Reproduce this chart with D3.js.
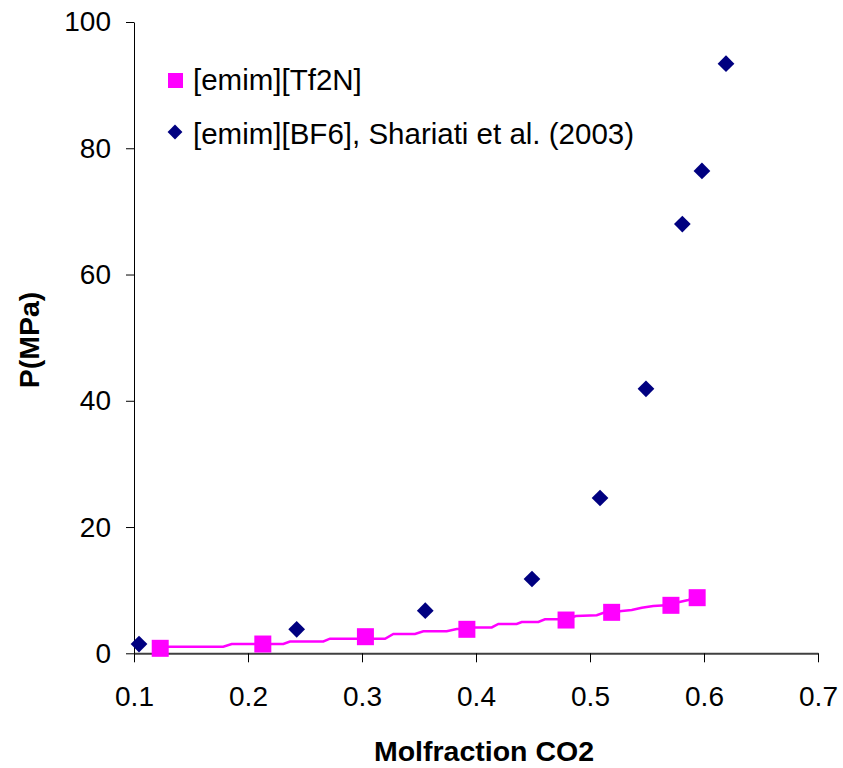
<!DOCTYPE html>
<html>
<head>
<meta charset="utf-8">
<script src="https://cdn.jsdelivr.net/npm/d3@7"></script>
<style>
  html, body { margin: 0; padding: 0; background: #fff; }
  svg { display: block; }
  text { font-family: Arial, "Liberation Sans", sans-serif; }
</style>
</head>
<body>
<svg id="chart" width="843" height="768"></svg>
<script>
// ---- data ----
const xTicks = [0.1, 0.2, 0.3, 0.4, 0.5, 0.6, 0.7];
const yTicks = [0, 20, 40, 60, 80, 100];

// [emim][Tf2N] measured points
const tf2nX = [0.123, 0.213, 0.303, 0.392, 0.479, 0.519, 0.571, 0.594];
const tf2nP = [0.79, 1.47, 2.63, 3.80, 5.27, 6.49, 7.60, 8.81];

// [emim][Tf2N] model curve
const curveX = [0.1234, 0.1783, 0.1857, 0.2310, 0.2368, 0.2661, 0.2719, 0.3202, 0.3275, 0.3465,
                0.3538, 0.3743, 0.3831, 0.3918, 0.3991, 0.4138, 0.4196, 0.4357, 0.4401, 0.4547,
                0.4605, 0.4789, 0.4877, 0.5059, 0.5132, 0.5193, 0.5278, 0.5366, 0.5454, 0.5555,
                0.5702, 0.5775, 0.5862, 0.5936];
const curveP = [1.05, 1.05, 1.47, 1.47, 1.87, 1.87, 2.31, 2.31, 3.06, 3.06,
                3.49, 3.49, 3.85, 3.85, 4.09, 4.09, 4.64, 4.64, 4.96, 4.96,
                5.39, 5.39, 5.91, 6.02, 6.49, 6.49, 6.70, 6.86, 7.22, 7.49,
                7.65, 8.08, 8.44, 8.81];

// [emim][BF6], Shariati et al. (2003)
const bf6X = [0.1044, 0.2427, 0.3555, 0.4491, 0.5088, 0.5491, 0.5810, 0.5982, 0.6193];
const bf6P = [1.47, 3.80, 6.75, 11.77, 24.6, 41.9, 68.0, 76.4, 93.4];

const legendLabels = ["[emim][Tf2N]", "[emim][BF6], Shariati et al. (2003)"];
const xTitle = "Molfraction CO2";
const yTitle = "P(MPa)";

// ---- chart ----
const svg = d3.select("#chart");
const x = d3.scaleLinear().domain([0.1, 0.7]).range([134, 818]);
const y = d3.scaleLinear().domain([0, 100]).range([653.3, 22]);

const FONT = 28;
const pink = "#FF00FF", navy = "#000080";

// axes
const xAxis = svg.append("g")
  .attr("transform", `translate(0,${y(0)})`)
  .call(d3.axisBottom(x).tickValues(xTicks).tickFormat(d3.format(".1f")).tickSize(9).tickPadding(24).tickSizeOuter(0));
xAxis.select(".domain").attr("stroke", "#404040").attr("stroke-width", 2);
xAxis.selectAll(".tick line").attr("stroke", "#000").attr("stroke-width", 1);
xAxis.selectAll("text").attr("font-size", FONT).attr("fill", "#000")
  .style("font-family", "Arial, 'Liberation Sans', sans-serif");

const yAxis = svg.append("g")
  .attr("transform", `translate(${x(0.1)},0)`)
  .call(d3.axisLeft(y).tickValues(yTicks).tickFormat(d3.format("d")).tickSize(8).tickPadding(15).tickSizeOuter(0));
yAxis.select(".domain").attr("stroke", "#000").attr("stroke-width", 1);
yAxis.selectAll(".tick line").attr("stroke", "#000").attr("stroke-width", 1);
yAxis.selectAll("text").attr("font-size", FONT).attr("fill", "#000")
  .style("font-family", "Arial, 'Liberation Sans', sans-serif");

// titles
svg.append("text")
  .attr("x", 484).attr("y", 761)
  .attr("text-anchor", "middle")
  .attr("font-size", 28.5).attr("font-weight", "bold")
  .text(xTitle);

svg.append("text")
  .attr("transform", `translate(39,340) rotate(-90)`)
  .attr("text-anchor", "middle")
  .attr("font-size", 28.5).attr("font-weight", "bold")
  .text(yTitle);

// curve
const curveData = curveX.map((d, i) => [d, curveP[i]]);
svg.append("path")
  .datum(curveData)
  .attr("fill", "none")
  .attr("stroke", pink)
  .attr("stroke-width", 2.5)
  .attr("d", d3.line().x(d => x(d[0])).y(d => y(d[1])));

// BF6 diamonds
const diamond = d3.symbol().type(d3.symbolSquare).size(140);
svg.append("g").selectAll("path")
  .data(bf6X.map((d, i) => [d, bf6P[i]]))
  .join("path")
  .attr("d", diamond)
  .attr("transform", d => `translate(${x(d[0])},${y(d[1])}) rotate(45)`)
  .attr("fill", navy);

// Tf2N squares
const sq = 17;
svg.append("g").selectAll("rect")
  .data(tf2nX.map((d, i) => [d, tf2nP[i]]))
  .join("rect")
  .attr("x", d => x(d[0]) - sq / 2)
  .attr("y", d => y(d[1]) - sq / 2)
  .attr("width", sq).attr("height", sq)
  .attr("fill", pink);

// legend
const LFONT = 29.5;
const lg = svg.append("g");
lg.append("rect").attr("x", 168).attr("y", 73).attr("width", 15).attr("height", 15).attr("fill", pink);
lg.append("path").attr("d", d3.symbol().type(d3.symbolSquare).size(110))
  .attr("transform", "translate(175,132) rotate(45)").attr("fill", navy);
lg.append("text").attr("x", 193).attr("y", 90).attr("font-size", LFONT).text(legendLabels[0]);
lg.append("text").attr("x", 193).attr("y", 144).attr("font-size", LFONT).text(legendLabels[1]);
</script>
</body>
</html>
